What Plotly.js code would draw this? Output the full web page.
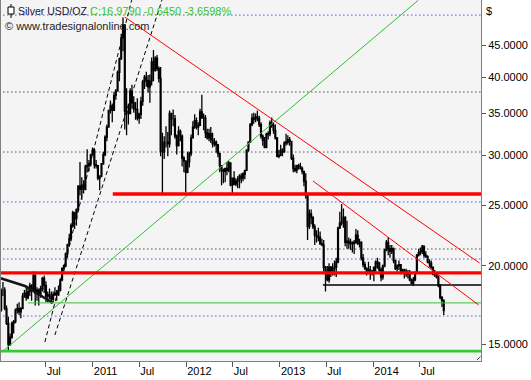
<!DOCTYPE html>
<html><head><meta charset="utf-8">
<script src="https://cdn.plot.ly/plotly-3.0.1.min.js"></script>
<style>html,body{margin:0;padding:0;background:#fff}#chart{width:531px;height:380px}</style>
</head><body><div id="chart"></div>
<script>
// Weekly OHLC, silver USD/oz, weeks ending Fri 2010-01-08 ... 2014-10-03
const firstWeekEnding = '2010-01-08';
const opens = [
 17.0,18.3,18.3,17.1,16.2,15.0,15.4,16.2,16.3,17.0,17.1,16.9,17.1,17.9,18.1,17.8,18.2,18.6,18.4,19.3,18.1,18.3,18.0,18.4,19.1,18.6,17.9,18.0,17.9,17.7,18.0,18.1,18.0,18.3,19.0,19.8,20.0,20.9,21.6,22.1,23.2,24.3,23.8,24.6,26.8,26.5,26.9,26.5,28.8,28.9,29.1,30.1,
 30.6,29.0,28.9,27.6,27.8,29.1,30.1,32.1,33.3,35.4,36.0,35.4,37.4,38.0,40.7,42.8,46.2,48.4,35.3,35.2,35.0,38.0,36.4,35.6,35.5,34.4,34.9,36.6,39.3,40.0,39.5,38.6,39.4,42.3,41.0,42.9,41.3,39.8,30.5,30.4,31.5,31.5,31.3,35.0,34.3,34.3,32.2,31.1,32.8,32.2,29.7,29.4,
 28.2,29.3,30.2,32.0,33.3,34.1,33.3,33.5,35.2,34.5,34.4,32.6,32.0,32.5,31.8,31.3,31.5,31.2,30.2,28.9,28.4,28.3,28.6,28.4,29.2,26.9,27.6,27.0,27.3,27.4,27.8,27.6,28.0,28.4,30.6,31.5,33.6,34.4,34.3,34.6,34.4,33.6,32.2,31.7,30.9,32.4,32.5,33.8,33.5,32.9,32.0,29.9,30.0,
 30.6,30.4,31.4,31.5,31.8,31.6,29.7,28.6,28.4,28.9,28.8,28.6,28.3,27.3,25.9,23.1,24.2,23.9,23.1,22.4,22.3,22.2,21.7,21.6,19.9,19.6,19.0,19.9,19.5,19.8,19.9,20.3,23.0,23.4,23.5,23.9,21.8,21.9,21.7,21.8,21.7,21.8,22.4,21.7,21.8,20.6,20.1,19.8,19.5,19.7,19.6,19.5,
 19.9,20.3,20.2,19.7,19.2,20.0,21.2,21.8,21.3,21.1,21.3,20.4,19.8,20.0,20.1,19.6,19.7,19.6,19.4,19.5,19.0,18.75,19.0,19.5,20.8,21.0,21.1,21.5,20.8,20.7,20.3,20.2,19.9,19.4,19.5,19.2,18.6,17.8,17.6
];
const highs = [
 18.4,18.85,18.5,17.3,16.6,15.6,16.3,16.4,17.1,17.4,17.5,17.2,18.1,18.3,18.6,18.4,18.8,18.7,19.6,19.4,18.5,18.4,18.6,19.2,19.3,18.9,18.2,18.4,18.2,18.2,18.5,18.3,18.6,19.1,19.9,20.1,21.0,21.7,22.5,23.4,24.5,24.4,24.7,26.9,29.3,27.7,27.4,29.0,30.7,29.5,30.2,30.9,
 30.8,29.5,28.9,27.9,29.1,30.4,32.3,33.6,35.4,36.7,36.3,37.9,38.3,41.0,43.0,46.9,49.8,48.6,38.4,36.3,38.4,38.9,37.3,36.5,37.0,35.1,37.2,39.6,40.3,40.8,40.3,40.4,43.0,44.2,43.2,43.4,41.6,41.5,32.6,32.2,33.4,32.7,35.4,35.1,35.5,34.8,32.4,33.4,33.0,32.4,29.9,29.4,
 30.4,30.4,32.4,34.0,34.9,34.5,33.9,35.6,37.5,35.0,34.8,33.1,33.1,33.3,32.6,32.0,31.7,31.3,30.3,28.9,28.6,28.6,29.3,29.4,29.2,27.6,28.3,27.6,27.8,28.0,28.1,28.2,28.4,30.7,31.6,33.8,35.0,35.1,35.0,35.4,34.7,33.9,32.4,32.1,32.6,32.8,34.1,34.5,33.8,33.6,32.1,30.6,31.2,
 30.8,31.6,32.5,32.3,32.1,31.6,30.1,29.0,29.0,29.1,29.2,28.8,28.3,28.1,26.0,24.6,24.6,24.0,23.3,22.8,23.0,22.7,22.1,22.0,20.0,20.0,20.2,20.0,20.2,20.4,20.6,23.1,24.4,25.1,24.7,24.0,23.6,22.2,22.1,21.9,22.0,22.9,22.8,22.1,21.9,20.9,20.3,19.9,20.3,20.0,19.7,19.9,
 20.4,20.6,20.3,19.9,20.1,21.3,22.0,22.2,21.6,21.6,21.4,20.4,20.1,20.4,20.1,19.8,19.8,19.8,19.7,19.7,19.1,19.2,19.6,20.9,21.3,21.4,21.6,21.5,21.1,20.8,20.5,20.4,19.9,19.7,19.5,19.3,18.7,17.9,17.7
];
const lows = [
 16.9,17.9,17.0,16.1,14.65,14.9,15.3,15.6,16.2,16.8,16.7,16.5,17.1,17.8,17.6,17.7,17.9,17.6,18.3,17.3,17.6,17.3,17.8,18.2,18.1,17.5,17.5,17.7,17.4,17.5,17.9,17.6,17.9,18.2,18.9,19.6,19.9,20.6,21.5,21.9,23.0,22.9,23.2,24.4,25.9,25.5,26.1,26.4,28.2,28.3,28.8,30.0,
 28.6,28.6,27.4,26.4,27.7,29.0,29.9,31.6,33.2,35.0,33.9,35.4,36.8,37.9,39.4,42.6,44.0,33.0,32.3,33.6,34.9,35.6,35.1,34.2,34.1,33.7,34.3,36.0,38.3,38.6,37.8,36.4,38.8,39.4,40.8,40.9,39.2,29.9,26.1,29.6,30.9,29.9,30.9,32.3,33.4,31.9,30.1,31.0,31.6,28.8,28.2,26.2,
 28.1,28.7,29.9,32.0,33.1,33.0,32.3,33.5,34.3,32.9,32.0,31.8,31.6,31.4,30.9,31.0,30.3,29.8,28.2,26.9,27.1,27.2,27.9,28.2,26.8,26.1,26.9,26.8,26.6,26.6,27.1,27.3,27.5,28.4,30.4,31.4,33.4,33.7,33.9,34.0,33.3,31.9,31.1,30.8,30.8,31.8,32.2,33.2,32.5,31.8,29.8,29.7,29.9,
 29.9,30.3,31.1,31.2,31.1,29.5,28.2,28.2,28.1,28.5,28.5,28.0,26.8,25.6,22.0,22.9,23.3,22.9,21.6,21.8,21.9,21.6,21.5,19.6,18.2,18.9,18.8,19.2,19.3,19.3,19.2,20.2,22.9,23.2,23.0,21.5,21.3,21.3,21.2,21.0,20.9,21.7,21.6,21.4,20.4,19.9,19.7,19.3,19.4,19.0,19.3,18.9,
 19.6,19.8,19.6,18.9,19.0,19.9,21.1,20.8,20.6,20.9,20.2,19.7,19.6,19.7,19.4,19.5,19.1,19.2,19.1,18.9,18.7,18.6,18.9,19.5,20.7,20.8,20.9,20.6,20.6,20.2,19.9,19.8,19.3,19.2,19.1,18.5,17.7,17.2,16.7
];
const closes = [
 18.3,18.3,17.1,16.2,15.0,15.4,16.2,16.3,17.0,17.1,16.9,17.1,17.9,18.1,17.8,18.2,18.6,18.4,19.3,18.1,18.3,18.0,18.4,19.1,18.6,17.9,18.0,17.9,17.7,18.0,18.1,18.0,18.3,19.0,19.8,20.0,20.9,21.6,22.1,23.2,24.3,23.8,24.6,26.8,26.5,26.9,26.5,28.8,28.9,29.1,30.1,30.6,
 29.0,28.9,27.6,27.8,29.1,30.1,32.1,33.3,35.4,36.0,35.4,37.4,38.0,40.7,42.8,46.2,48.4,35.3,35.2,35.0,38.0,36.4,35.6,35.5,34.4,34.9,36.6,39.3,40.0,39.5,38.6,39.4,42.3,41.0,42.9,41.3,39.8,30.5,30.4,31.5,31.5,31.3,35.0,34.3,34.3,32.2,31.1,32.8,32.2,29.7,29.4,28.2,
 29.3,30.2,32.0,33.3,34.1,33.3,33.5,35.2,34.5,34.4,32.6,32.0,32.5,31.8,31.3,31.5,31.2,30.2,28.9,28.4,28.3,28.6,28.4,29.2,26.9,27.6,27.0,27.3,27.4,27.8,27.6,28.0,28.4,30.6,31.5,33.6,34.4,34.3,34.6,34.4,33.6,32.2,31.7,30.9,32.4,32.5,33.8,33.5,32.9,32.0,29.9,30.0,30.6,
 30.4,31.4,31.5,31.8,31.6,29.7,28.6,28.4,28.9,28.8,28.6,28.3,27.3,25.9,23.1,24.2,23.9,23.1,22.4,22.3,22.2,21.7,21.6,19.9,19.6,19.0,19.9,19.5,19.8,19.9,20.3,23.0,23.4,23.5,23.9,21.8,21.9,21.7,21.8,21.7,21.8,22.4,21.7,21.8,20.6,20.1,19.8,19.5,19.7,19.6,19.5,19.9,
 20.3,20.2,19.7,19.2,20.0,21.2,21.8,21.3,21.1,21.3,20.4,19.8,20.0,20.1,19.6,19.7,19.6,19.4,19.5,19.0,18.75,19.0,19.5,20.8,21.0,21.1,21.5,20.8,20.7,20.3,20.2,19.9,19.4,19.5,19.2,18.6,17.8,17.6,16.979
];

// X axis labels
const tickDates = ['2010-07-01','2011-01-01','2011-07-01','2012-01-01','2012-07-01','2013-01-01','2013-07-01','2014-01-01','2014-07-01'];
const tickLabels = ['Jul','2011','Jul','2012','Jul','2013','Jul','2014','Jul'];
const priceTicks = [15,20,25,30,35,40,45];
const priceTickLabels = ['15.0000','20.0000','25.0000','30.0000','35.0000','40.0000','45.0000'];

// Drawing tools (trend lines): dates / prices
const greenTrendDates = ['2010-01-11','2014-06-26'], greenTrendPrices = [14.58, 53.07];
const redTrend1Dates = ['2011-05-06','2015-02-20'], redTrend1Prices = [49.87, 20.21];
const redTrend2Dates = ['2013-05-10','2015-02-16'], redTrend2Prices = [27.32, 17.33];
const fanADates = ['2010-06-28','2011-06-02'], fanAPrices = [15.13, 53.07];
const fanBDates = ['2010-08-06','2011-09-28'], fanBPrices = [15.52, 53.07];
const earlyTrendDates = ['2010-01-03','2010-04-11','2010-07-29'], earlyTrendPrices = [19.13, 18.58, 17.45];

// Horizontal levels
const chartStart = '2010-01-01', chartEnd = '2015-03-01';
const resistanceLevel = 26.04, resistanceFrom = '2011-03-20';
const supportLevel = 19.49;
const baseLevel = 14.63;
const greenLevel = 17.46, greenFrom = '2010-04-22';
const blackLevel = 18.65, blackFrom = '2013-06-18';
const blueDotted = [50.23, 25.29, 20.51, 16.64];
const blackDotted = [37.87, 30.38, 21.28];

const dates = closes.map((_, i) => {
  const d = new Date(Date.parse(firstWeekEnding + 'T00:00:00Z') + i * 7 * 86400000);
  return d.toISOString().slice(0, 10);
});

function seg(x, y, color, width, dash) {
  return {type:'scatter', mode:'lines', x:x, y:y, hoverinfo:'skip', showlegend:false,
    line:{color:color, width:width, dash:dash || 'solid'}};
}

const traces = [{
  type:'candlestick', x:dates, open:opens, high:highs, low:lows, close:closes,
  increasing:{line:{color:'#000', width:1.3}, fillcolor:'#ffffff'},
  decreasing:{line:{color:'#000', width:1.3}, fillcolor:'#000000'},
  whiskerwidth:0, hoverinfo:'skip', showlegend:false
}];
blueDotted.forEach(v => traces.push(seg([chartStart, chartEnd], [v, v], '#0000ff', 1, '1px,3px')));
blackDotted.forEach(v => traces.push(seg([chartStart, chartEnd], [v, v], '#000000', 1, '1px,3px')));
traces.push(seg(earlyTrendDates, earlyTrendPrices, '#151515', 2.5));
traces.push(seg(fanADates, fanAPrices, '#000', 1, '4px,3px'));
traces.push(seg(fanBDates, fanBPrices, '#000', 1, '4px,3px'));
traces.push(seg([greenFrom, chartEnd], [greenLevel, greenLevel], '#3cbf3c', 1));
traces.push(seg([blackFrom, chartEnd], [blackLevel, blackLevel], '#000', 1.4));
traces.push(seg(greenTrendDates, greenTrendPrices, '#2fbf2f', 1));
traces.push(seg(redTrend1Dates, redTrend1Prices, '#ff0000', 1));
traces.push(seg(redTrend2Dates, redTrend2Prices, '#ff0000', 1));
traces.push(seg([resistanceFrom, chartEnd], [resistanceLevel, resistanceLevel], '#ff0000', 3.3));
traces.push(seg([chartStart, chartEnd], [supportLevel, supportLevel], '#ff0000', 3.3));
traces.push(seg([chartStart, chartEnd], [baseLevel, baseLevel], '#33cc33', 2.7));

const F = 'Liberation Sans, Arial, sans-serif';
const layout = {
  width:531, height:380,
  margin:{l:1, r:50, t:0, b:19},
  paper_bgcolor:'#ffffff', plot_bgcolor:'#f4f4f4',
  showlegend:false, hovermode:false,
  font:{family:F, size:11, color:'#000'},
  xaxis:{type:'date', range:['2010-01-07 10:00','2015-02-25 12:00'],
    rangeslider:{visible:false}, showgrid:false, zeroline:false,
    tickvals:tickDates, ticktext:tickLabels, ticks:'outside', ticklen:5, tickcolor:'#555',
    ticklabelposition:'outside right', tickfont:{family:F, size:11, color:'#000'},
    showline:true, linecolor:'#808080', linewidth:1, mirror:false, fixedrange:true},
  yaxis:{type:'log', range:[1.1494, 1.7250], side:'right', showgrid:false, zeroline:false,
    tickvals:priceTicks, ticktext:priceTickLabels, ticks:'outside', ticklen:4, tickcolor:'#555',
    tickfont:{family:F, size:11, color:'#000'},
    showline:true, linecolor:'#808080', linewidth:1, mirror:true, fixedrange:true},
  shapes:[
    {type:'line', xref:'paper', yref:'paper', x0:(11-1)/480, x1:(11-1)/480, y0:1-4/361, y1:1-18/361, line:{color:'#000', width:1}},
    {type:'rect', xref:'paper', yref:'paper', x0:(8-1)/480, x1:(14-1)/480, y0:1-7/361, y1:1-14/361, fillcolor:'#fff', line:{color:'#000', width:1}},
    {type:'line', xref:'paper', yref:'paper', x0:(477-1)/480, x1:(480.5-1)/480, y0:1-360/361, y1:1-356.5/361, line:{color:'#444', width:1}}
  ],
  annotations:[
    {xref:'paper', yref:'paper', x:(17-1)/480, y:1-11/361, xanchor:'left', yanchor:'middle', showarrow:false,
     text:'Silver USD/OZ', font:{family:F, size:10.5, color:'#14143c'}, borderpad:0},
    {xref:'paper', yref:'paper', x:(89-1)/480, y:1-11/361, xanchor:'left', yanchor:'middle', showarrow:false,
     text:'C:16.9790 -0.6450 -3.6598%', font:{family:F, size:11, color:'#33c433'}, borderpad:0},
    {xref:'paper', yref:'paper', x:(4-1)/480, y:1-26/361, xanchor:'left', yanchor:'middle', showarrow:false,
     text:'© www.tradesignalonline.com', font:{family:F, size:11, color:'#1e1e1e'}, borderpad:0},
    {xref:'paper', yref:'paper', x:(485-1)/480, y:1-11/361, xanchor:'left', yanchor:'middle', showarrow:false,
     text:'$', font:{family:F, size:11, color:'#000'}, borderpad:0}
  ]
};
Plotly.newPlot('chart', traces, layout, {displayModeBar:false, staticPlot:true});
</script></body></html>
